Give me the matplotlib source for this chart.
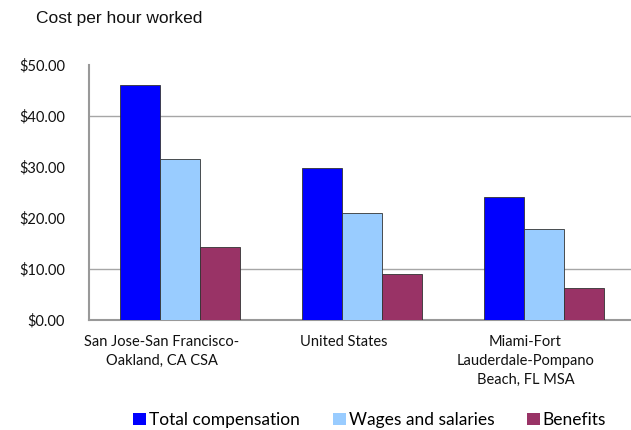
import numpy as np
import matplotlib
matplotlib.use("Agg")
import matplotlib.pyplot as plt
from matplotlib.ticker import FuncFormatter

categories = [
    "San Jose-San Francisco-\nOakland, CA CSA",
    "United States",
    "Miami-Fort\nLauderdale-Pompano\nBeach, FL MSA",
]
total_comp = [45.9, 29.8, 24.1]
wages = [31.5, 20.9, 17.8]
benefits = [14.3, 9.0, 6.2]
series_names = ["Total compensation", "Wages and salaries", "Benefits"]
colors = ["#0000FF", "#99CCFF", "#993366"]
y_ticks = [0, 10, 20, 30, 40, 50]
grid_at = [10, 40]

LABEL_FONT = ["Lato", "DejaVu Sans"]

fig = plt.figure(figsize=(6.31, 4.30), dpi=100)
ax = fig.add_axes([0.1406, 0.2558, 0.8594, 0.5942])

x = np.arange(len(categories))
w = 0.22
for i, (vals, name, c) in enumerate(zip([total_comp, wages, benefits], series_names, colors)):
    ax.bar(x + (i - 1) * w, vals, width=w, color=c, edgecolor="#333333",
           linewidth=0.6, label=name, zorder=3)

for g in grid_at:
    ax.axhline(g, color="#A6A6A6", linewidth=1.0, zorder=1)

ax.set_xlim(-0.5, 2.48)
ax.set_ylim(0, 50)
ax.set_yticks(y_ticks)
ax.yaxis.set_major_formatter(FuncFormatter(lambda v, p: f"${v:.2f}"))
ax.set_xticks(x - 0.1)
ax.set_xticklabels(categories, linespacing=1.45)
ax.tick_params(axis="y", length=0, pad=17, labelsize=10.5, labelcolor="#111111")
ax.tick_params(axis="x", length=0, pad=11, labelsize=10.5, labelcolor="#111111")
for lbl in ax.get_xticklabels() + ax.get_yticklabels():
    lbl.set_family(LABEL_FONT)

for s in ["top", "right"]:
    ax.spines[s].set_visible(False)
for s in ["left", "bottom"]:
    ax.spines[s].set_color("#999999")
    ax.spines[s].set_linewidth(1.5)

fig.text(36 / 631, 1 - 18 / 430, "Cost per hour worked", family="Liberation Sans",
         fontsize=12.5, va="center", ha="left", color="#111111")

leg = fig.legend(loc="center", bbox_to_anchor=(0.586, 1 - 420 / 430), ncol=3,
                 frameon=False, prop={"family": LABEL_FONT, "size": 12.5},
                 handlelength=0.75, handleheight=0.75, handletextpad=0.15,
                 columnspacing=1.9, borderpad=0)
for h in leg.legend_handles:
    h.set_edgecolor("none")

fig.savefig("out.png", dpi=100)
